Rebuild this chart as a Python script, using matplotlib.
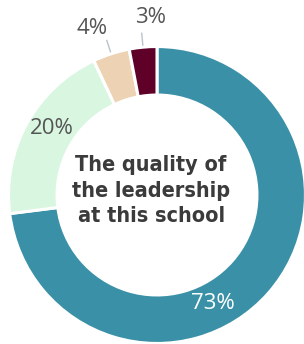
import numpy as np
import matplotlib.pyplot as plt

# share of answers, clockwise from 12 o'clock
shares = [73, 20, 4, 3]
labels = ["73%", "20%", "4%", "3%"]
colors = ["#3a91a7", "#d9f6e1", "#edd3b4", "#5e0028"]
label_colors = ["white", "#555555", "#555555", "#555555"]
label_pos = [(0.38, -0.735), (-0.714, 0.449), (-0.442, 1.135), (-0.041, 1.205)]
center_title = "The quality of\nthe leadership\nat this school"

fig = plt.figure(figsize=(3.04, 3.44), dpi=100)
ax = fig.add_axes([10 / 304, 2 / 344, 294 / 304, 294 / 344])

ax.pie(shares, colors=colors, startangle=90, counterclock=False,
       radius=1.01,
       wedgeprops=dict(width=0.33, edgecolor="white", linewidth=2.2))
ax.set_xlim(-1, 1)
ax.set_ylim(-1, 1)
ax.set_aspect("equal")
ax.axis("off")

# leader lines for the two small slices, from the slice mid angle
ends = np.cumsum(shares) / sum(shares) * 360
mids = ends - np.array(shares) / sum(shares) * 180
for i in (2, 3):
    a = np.deg2rad(90 - mids[i])
    r = np.array([1.02, 1.11])
    ax.plot(r * np.cos(a), r * np.sin(a), color="#b8c4cc", lw=1,
            solid_capstyle="butt", clip_on=False)

for txt, c, (x, y) in zip(labels, label_colors, label_pos):
    ax.text(x, y, txt, ha="center", va="center", color=c, fontsize=16,
            family="Open Sans", clip_on=False)

ax.text(-0.04, 0.03, center_title, ha="center", va="center",
        fontsize=15.5, fontweight="bold", color="#3b3b3b",
        family="DejaVu Sans", fontstretch="condensed", linespacing=1.32)

fig.savefig("out.png", dpi=100)
